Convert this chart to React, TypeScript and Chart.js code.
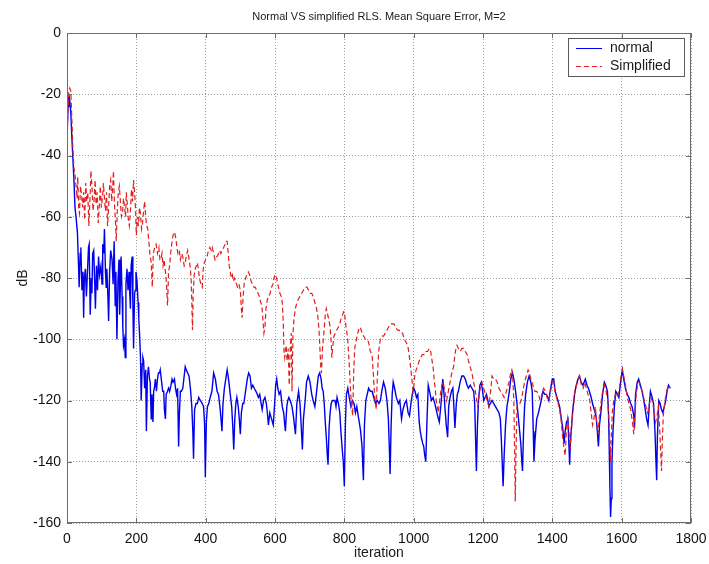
import { useEffect, useRef } from 'react';
import { Chart, registerables } from 'chart.js';

Chart.register(...registerables);

// Mean square error (dB) per iteration, standard RLS
const normalMse: [number, number][] = [
  [0,-35],[3,-24],[5,-20],[8,-22],[11,-26],[14,-34],[17,-41],[20,-48],[23,-57],[26,-60],
  [30,-65],[33,-75],[35,-83],[38,-72],[40,-70],[43,-84],[46,-78],[48,-93],[50,-80],[53,-77],
  [56,-86],[59,-78],[62,-70],[64,-69],[67,-92],[70,-80],[72,-85],[74,-72],[77,-71],[80,-82],
  [82,-90],[85,-76],[88,-84],[91,-73],[94,-79],[98,-76],[101,-82],[103,-69],[106,-72],[108,-64],
  [111,-78],[113,-83],[115,-77],[118,-86],[120,-94],[123,-78],[126,-71],[130,-74],[133,-82],[136,-68],
  [139,-89],[141,-78],[144,-100],[147,-81],[150,-74],[152,-92],[154,-82],[156,-73],[159,-86],[161,-96],
  [163,-102],[166,-100],[168,-106],[170,-82],[173,-77],[176,-84],[179,-78],[181,-85],[183,-90],[185,-76],
  [188,-73],[190,-88],[192,-103],[195,-85],[197,-84],[199,-78],[202,-81],[205,-88],[207,-93],[210,-100],
  [212,-106],[214,-120],[217,-108],[219,-106],[221,-107],[224,-116],[227,-110],[229,-130],[232,-112],[235,-109],
  [238,-113],[240,-114],[243,-126],[245,-118],[248,-127],[250,-117],[252,-116],[255,-113],[258,-117],[261,-113],
  [264,-111],[267,-111],[269,-110],[272,-113],[276,-117],[279,-117],[281,-123],[284,-126],[286,-118],[290,-117],
  [293,-116],[296,-117],[300,-115],[303,-113],[306,-114],[310,-113],[313,-116],[316,-118],[319,-116],[322,-135],
  [324,-125],[327,-117],[330,-117],[334,-116],[338,-112],[341,-109],[344,-110],[348,-111],[352,-112],[356,-116],
  [360,-122],[363,-130],[365,-139],[368,-123],[372,-121],[376,-121],[380,-119],[385,-120],[390,-121],[394,-122],
  [397,-128],[399,-145],[402,-127],[405,-122],[409,-121],[413,-119],[418,-117],[423,-111],[428,-113],[433,-117],
  [437,-118],[442,-123],[445,-127],[447,-130],[450,-121],[454,-116],[458,-113],[462,-110],[466,-113],[471,-118],
  [475,-122],[478,-128],[481,-136],[484,-126],[487,-121],[490,-119],[494,-122],[497,-126],[500,-131],[503,-124],
  [507,-121],[510,-121],[515,-117],[520,-113],[524,-111],[528,-112],[532,-116],[536,-115],[540,-116],[545,-117],
  [549,-118],[552,-119],[556,-118],[560,-121],[563,-123],[567,-120],[571,-119],[575,-121],[578,-124],[581,-128],
  [585,-124],[590,-126],[595,-128],[599,-121],[602,-115],[605,-113],[608,-116],[612,-118],[616,-117],[621,-122],
  [625,-124],[630,-130],[634,-122],[637,-120],[640,-119],[644,-120],[649,-122],[653,-125],[656,-128],[659,-131],
  [663,-121],[668,-117],[672,-121],[675,-127],[679,-136],[682,-126],[687,-120],[691,-114],[696,-112],[701,-114],
  [706,-118],[710,-120],[715,-122],[720,-117],[725,-112],[729,-111],[733,-113],[736,-116],[739,-117],[742,-121],
  [745,-127],[748,-132],[751,-138],[753,-141],[756,-129],[759,-124],[762,-121],[766,-120],[770,-120],[773,-120],
  [776,-122],[779,-119],[783,-121],[787,-124],[790,-130],[794,-136],[797,-140],[800,-148],[803,-128],[806,-118],
  [810,-116],[814,-119],[819,-122],[823,-120],[828,-121],[832,-124],[836,-122],[840,-125],[843,-127],[847,-130],
  [851,-135],[855,-146],[858,-128],[862,-120],[866,-118],[870,-116],[875,-117],[880,-117],[885,-119],[890,-121],
  [895,-120],[900,-121],[904,-120],[908,-117],[913,-114],[918,-116],[923,-120],[927,-126],[930,-136],[932,-144],
  [935,-128],[938,-118],[941,-114],[945,-116],[950,-119],[956,-121],[960,-120],[965,-126],[969,-123],[974,-121],
  [979,-120],[984,-124],[988,-125],[992,-121],[996,-118],[1000,-116],[1004,-117],[1008,-119],[1012,-118],[1016,-127],
  [1019,-130],[1022,-132],[1026,-134],[1029,-135],[1032,-138],[1035,-140],[1038,-128],[1042,-115],[1046,-117],[1051,-120],
  [1056,-119],[1061,-121],[1065,-123],[1069,-125],[1074,-127],[1079,-121],[1084,-113],[1087,-117],[1090,-122],[1094,-128],
  [1098,-132],[1101,-122],[1105,-119],[1109,-117],[1113,-116],[1116,-122],[1119,-129],[1123,-121],[1126,-118],[1129,-117],
  [1134,-114],[1139,-112],[1144,-112],[1149,-113],[1154,-115],[1158,-116],[1163,-115],[1168,-116],[1173,-117],[1176,-121],
  [1178,-130],[1181,-143],[1184,-128],[1187,-120],[1191,-115],[1195,-114],[1199,-117],[1202,-120],[1206,-119],[1210,-118],
  [1214,-120],[1217,-122],[1221,-121],[1226,-120],[1231,-121],[1236,-122],[1241,-123],[1246,-124],[1250,-126],[1253,-133],
  [1255,-139],[1258,-148],[1261,-138],[1265,-128],[1269,-122],[1272,-120],[1276,-117],[1280,-113],[1285,-111],[1289,-113],
  [1294,-117],[1299,-122],[1304,-128],[1309,-134],[1312,-140],[1314,-143],[1317,-130],[1320,-122],[1323,-118],[1328,-114],
  [1333,-112],[1338,-114],[1342,-117],[1345,-130],[1347,-140],[1350,-133],[1355,-126],[1360,-124],[1364,-122],[1368,-120],
  [1373,-117],[1378,-118],[1383,-118],[1387,-119],[1390,-120],[1395,-116],[1400,-113],[1404,-113],[1408,-117],[1411,-118],
  [1416,-120],[1421,-122],[1426,-126],[1430,-129],[1434,-134],[1437,-130],[1441,-127],[1445,-126],[1448,-135],[1450,-141],
  [1452,-134],[1455,-129],[1459,-123],[1464,-118],[1469,-115],[1474,-113],[1478,-112],[1483,-114],[1488,-115],[1492,-114],
  [1495,-113],[1500,-115],[1504,-116],[1507,-117],[1512,-119],[1516,-121],[1521,-123],[1526,-125],[1529,-129],[1533,-135],
  [1536,-128],[1540,-124],[1545,-118],[1550,-114],[1554,-115],[1559,-117],[1562,-124],[1564,-135],[1566,-148],[1568,-158],
  [1570,-152],[1572,-140],[1575,-130],[1579,-122],[1583,-117],[1588,-118],[1592,-119],[1597,-114],[1602,-110],[1606,-113],
  [1611,-116],[1616,-118],[1621,-119],[1626,-121],[1630,-122],[1635,-125],[1637,-129],[1640,-118],[1645,-114],[1649,-113],
  [1654,-115],[1659,-117],[1664,-120],[1668,-123],[1672,-126],[1676,-128],[1680,-121],[1683,-117],[1688,-119],[1692,-121],
  [1696,-130],[1699,-140],[1701,-146],[1703,-132],[1707,-120],[1711,-121],[1715,-123],[1719,-124],[1723,-122],[1727,-120],
  [1731,-117],[1735,-115],[1740,-116],
];

// Mean square error (dB) per iteration, simplified RLS
const simplifiedMse: [number, number][] = [
  [0,-34],[3,-25],[5,-19],[8,-18],[11,-19],[14,-28],[17,-38],[20,-44],[23,-46],[26,-50],
  [29,-54],[31,-47],[34,-58],[36,-59],[39,-50],[42,-53],[45,-57],[48,-52],[51,-61],[54,-49],
  [57,-55],[60,-52],[63,-63],[66,-55],[69,-45],[72,-50],[75,-58],[78,-55],[81,-48],[84,-56],
  [87,-52],[90,-62],[93,-57],[96,-50],[99,-57],[102,-54],[105,-49],[108,-54],[111,-58],[114,-52],
  [117,-63],[120,-57],[123,-50],[126,-48],[129,-55],[132,-50],[134,-45],[137,-56],[140,-62],[142,-68],
  [145,-58],[148,-52],[151,-50],[154,-55],[157,-60],[160,-59],[163,-54],[166,-57],[169,-60],[171,-52],
  [174,-56],[177,-61],[180,-63],[183,-58],[186,-51],[189,-55],[192,-48],[195,-52],[198,-58],[200,-66],
  [203,-60],[206,-63],[209,-57],[212,-59],[215,-64],[218,-62],[221,-58],[224,-55],[227,-60],[230,-63],
  [233,-64],[236,-68],[239,-72],[243,-75],[246,-83],[249,-72],[253,-70],[257,-69],[261,-72],[265,-70],
  [268,-74],[271,-74],[274,-72],[277,-76],[280,-74],[284,-78],[287,-82],[290,-89],[293,-78],[296,-76],
  [299,-72],[302,-69],[306,-66],[310,-65],[314,-67],[317,-70],[320,-72],[324,-71],[327,-74],[331,-72],
  [334,-73],[338,-76],[341,-75],[344,-73],[348,-71],[351,-73],[355,-76],[358,-80],[360,-88],[362,-97],
  [364,-85],[367,-79],[370,-77],[373,-76],[376,-75],[379,-77],[382,-80],[386,-82],[390,-83],[393,-77],
  [396,-75],[400,-74],[404,-73],[408,-71],[412,-70],[416,-71],[419,-70],[423,-72],[427,-74],[430,-73],
  [433,-73],[437,-72],[440,-71],[444,-72],[448,-71],[452,-70],[456,-69],[459,-68],[462,-68],[465,-72],
  [468,-76],[471,-78],[474,-80],[477,-79],[480,-81],[483,-80],[486,-81],[489,-82],[492,-83],[496,-82],
  [500,-84],[503,-90],[505,-93],[508,-86],[511,-82],[515,-80],[519,-79],[523,-78],[527,-79],[531,-81],
  [535,-82],[539,-83],[543,-83],[547,-84],[551,-85],[555,-86],[559,-88],[562,-89],[566,-95],[568,-98],
  [571,-96],[574,-90],[578,-87],[582,-86],[586,-85],[590,-83],[594,-82],[597,-80],[600,-79],[603,-79],
  [606,-81],[610,-83],[614,-85],[618,-86],[621,-88],[624,-95],[626,-104],[628,-106],[630,-104],[632,-102],
  [635,-107],[638,-103],[641,-115],[644,-103],[647,-98],[649,-117],[652,-98],[655,-93],[659,-90],[663,-88],
  [667,-87],[672,-86],[677,-85],[682,-84],[687,-83],[692,-83],[697,-84],[702,-85],[706,-85],[710,-86],
  [715,-88],[720,-90],[724,-93],[727,-97],[730,-104],[732,-109],[734,-111],[737,-103],[741,-98],[745,-92],
  [748,-90],[752,-92],[756,-94],[759,-96],[762,-101],[764,-106],[767,-102],[770,-99],[774,-98],[778,-97],
  [783,-96],[787,-95],[791,-93],[795,-92],[798,-91],[800,-91],[803,-94],[806,-97],[809,-99],[812,-104],
  [815,-110],[818,-117],[821,-122],[824,-125],[827,-111],[830,-103],[833,-101],[837,-99],[841,-97],[846,-96],
  [851,-98],[856,-99],[861,-100],[866,-100],[870,-101],[875,-104],[880,-105],[884,-112],[887,-118],[890,-121],
  [892,-123],[895,-113],[899,-104],[904,-100],[909,-99],[913,-99],[918,-98],[923,-97],[928,-96],[933,-95],
  [938,-95],[943,-95],[948,-96],[953,-97],[958,-97],[963,-98],[968,-98],[973,-100],[978,-101],[983,-102],
  [988,-106],[992,-110],[995,-113],[998,-117],[1000,-116],[1003,-112],[1007,-110],[1011,-109],[1016,-107],[1020,-106],
  [1025,-105],[1030,-105],[1035,-104],[1040,-104],[1045,-103],[1049,-104],[1053,-107],[1056,-109],[1059,-113],[1062,-116],
  [1065,-120],[1068,-122],[1071,-124],[1074,-121],[1077,-118],[1081,-115],[1085,-114],[1090,-117],[1095,-120],[1100,-117],
  [1105,-114],[1110,-111],[1115,-109],[1119,-105],[1122,-103],[1125,-102],[1129,-103],[1134,-104],[1139,-103],[1144,-103],
  [1149,-104],[1154,-105],[1158,-107],[1163,-109],[1168,-111],[1173,-114],[1178,-117],[1182,-120],[1185,-122],[1188,-119],
  [1192,-116],[1197,-114],[1202,-116],[1207,-118],[1212,-120],[1217,-122],[1222,-117],[1226,-112],[1231,-113],[1236,-113],
  [1241,-114],[1246,-116],[1251,-117],[1256,-118],[1261,-119],[1265,-118],[1270,-116],[1275,-114],[1280,-111],[1283,-110],
  [1286,-113],[1289,-120],[1291,-135],[1293,-153],[1295,-138],[1298,-122],[1302,-121],[1306,-121],[1310,-120],[1315,-117],
  [1320,-114],[1325,-112],[1330,-110],[1334,-111],[1338,-113],[1342,-114],[1346,-116],[1350,-117],[1355,-117],[1360,-118],
  [1365,-120],[1370,-118],[1375,-116],[1380,-117],[1385,-119],[1390,-120],[1395,-117],[1400,-114],[1404,-114],[1408,-117],
  [1412,-119],[1417,-121],[1421,-123],[1425,-126],[1429,-131],[1433,-135],[1437,-138],[1440,-131],[1444,-126],[1448,-130],
  [1451,-136],[1454,-132],[1457,-126],[1461,-122],[1465,-117],[1470,-115],[1475,-113],[1479,-112],[1484,-115],[1489,-116],
  [1494,-114],[1498,-116],[1503,-118],[1508,-120],[1512,-124],[1516,-128],[1520,-126],[1524,-122],[1528,-127],[1532,-131],
  [1535,-126],[1540,-121],[1545,-117],[1550,-115],[1555,-117],[1560,-120],[1563,-126],[1566,-134],[1568,-140],[1570,-132],
  [1573,-124],[1577,-120],[1582,-118],[1587,-119],[1592,-117],[1597,-113],[1602,-110],[1606,-112],[1611,-115],[1616,-119],
  [1621,-121],[1626,-123],[1631,-127],[1635,-131],[1638,-125],[1642,-118],[1646,-115],[1650,-114],[1655,-116],[1660,-117],
  [1665,-120],[1670,-122],[1675,-124],[1680,-121],[1685,-119],[1690,-121],[1694,-124],[1698,-127],[1702,-125],[1706,-122],
  [1710,-130],[1713,-138],[1715,-143],[1717,-134],[1720,-125],[1724,-121],[1728,-118],[1732,-116],[1736,-115],[1740,-116],
];

const seriesNames = ['normal', 'Simplified'];
const xTicks = [0, 200, 400, 600, 800, 1000, 1200, 1400, 1600, 1800];
const yTicks = [0, -20, -40, -60, -80, -100, -120, -140, -160];

const titleText = 'Normal VS simplified RLS. Mean Square Error, M=2';
const xLabel = 'iteration';
const yLabel = 'dB';

const FONT = '"Liberation Sans", Arial, Helvetica, sans-serif';
const BLUE = 'rgb(0, 0, 235)';
const RED = 'rgb(225, 30, 30)';
const RED_DASH = [5, 3];

const toPoints = (rows: [number, number][]) => rows.map(([x, y]) => ({ x, y }));

// Box, inward ticks, title, axis labels and legend in MATLAB figure style
const figureDecor = {
  id: 'figureDecor',
  afterDraw(chart: any) {
    const { ctx, chartArea: a, scales } = chart;
    const xs = scales.x;
    const ys = scales.y;
    ctx.save();

    // axes box
    ctx.strokeStyle = '#6e6e6e';
    ctx.lineWidth = 1;
    ctx.setLineDash([]);
    ctx.strokeRect(Math.round(a.left) + 0.5, Math.round(a.top) + 0.5,
      Math.round(a.right - a.left) - 1, Math.round(a.bottom - a.top) - 1);

    // inward tick marks on all four sides
    const tl = 5;
    ctx.beginPath();
    xTicks.forEach((v) => {
      const px = Math.round(xs.getPixelForValue(v)) + 0.5;
      ctx.moveTo(px, a.bottom); ctx.lineTo(px, a.bottom - tl);
      ctx.moveTo(px, a.top); ctx.lineTo(px, a.top + tl);
    });
    yTicks.forEach((v) => {
      const py = Math.round(ys.getPixelForValue(v)) + 0.5;
      ctx.moveTo(a.left, py); ctx.lineTo(a.left + tl, py);
      ctx.moveTo(a.right, py); ctx.lineTo(a.right - tl, py);
    });
    ctx.stroke();

    // title
    ctx.fillStyle = '#1a1a1a';
    ctx.font = `11px ${FONT}`;
    ctx.textAlign = 'center';
    ctx.textBaseline = 'middle';
    ctx.fillText(titleText, (a.left + a.right) / 2, 17);

    // axis labels
    ctx.font = `14px ${FONT}`;
    ctx.fillText(xLabel, (a.left + a.right) / 2, 553);
    ctx.save();
    ctx.translate(23, (a.top + a.bottom) / 2);
    ctx.rotate(-Math.PI / 2);
    ctx.fillText(yLabel, 0, 0);
    ctx.restore();

    // legend
    const lx = 568, ly = 38, lw = 117, lh = 39;
    ctx.fillStyle = '#ffffff';
    ctx.fillRect(lx, ly, lw, lh);
    ctx.strokeStyle = '#5a5a5a';
    ctx.strokeRect(lx + 0.5, ly + 0.5, lw - 1, lh - 1);
    const rows = [
      { y: 48.5, color: BLUE, dash: [] as number[] },
      { y: 66.5, color: RED, dash: RED_DASH },
    ];
    rows.forEach((r, i) => {
      ctx.strokeStyle = r.color;
      ctx.setLineDash(r.dash);
      ctx.beginPath();
      ctx.moveTo(576, r.y);
      ctx.lineTo(602, r.y);
      ctx.stroke();
      ctx.setLineDash([]);
      ctx.fillStyle = '#1a1a1a';
      ctx.font = `14px ${FONT}`;
      ctx.textAlign = 'left';
      ctx.textBaseline = 'middle';
      ctx.fillText(seriesNames[i], 610, r.y);
    });

    ctx.restore();
  },
};

export default function App() {
  const canvasRef = useRef<HTMLCanvasElement | null>(null);

  useEffect(() => {
    document.body.style.margin = '0';
    const canvas = canvasRef.current;
    if (!canvas) return;

    const chart = new Chart(canvas, {
      type: 'line',
      data: {
        datasets: [
          {
            label: seriesNames[0],
            data: toPoints(normalMse),
            borderColor: BLUE,
            borderWidth: 1.4,
            pointRadius: 0,
            tension: 0,
            order: 1,
          },
          {
            label: seriesNames[1],
            data: toPoints(simplifiedMse),
            borderColor: RED,
            borderWidth: 1.2,
            borderDash: RED_DASH,
            pointRadius: 0,
            tension: 0,
            order: 0,
          },
        ],
      },
      options: {
        animation: false,
        responsive: false,
        maintainAspectRatio: false,
        devicePixelRatio: 1,
        events: [],
        layout: { padding: { top: 33, right: 18, left: 0, bottom: 0 } },
        plugins: {
          legend: { display: false },
          title: { display: false },
          tooltip: { enabled: false },
        },
        scales: {
          x: {
            type: 'linear',
            min: 0,
            max: 1800,
            afterBuildTicks: (s: any) => { s.ticks = xTicks.map((v) => ({ value: v })); },
            afterFit: (s: any) => {
              s.height = 41;
              s.paddingLeft = 0;
              s.paddingRight = 0;
            },
            ticks: {
              padding: 8,
              maxRotation: 0,
              autoSkip: false,
              color: '#111',
              font: { family: FONT, size: 14 },
              callback: (v: any) => String(v),
            },
            grid: {
              color: 'rgba(140,140,140,0.85)',
              lineWidth: 1,
              drawTicks: false,
            },
            border: { display: false, dash: [1, 2] },
          },
          y: {
            type: 'linear',
            min: -160,
            max: 0,
            afterBuildTicks: (s: any) => { s.ticks = yTicks.map((v) => ({ value: v })); },
            afterFit: (s: any) => {
              s.width = 67;
              s.paddingTop = 0;
              s.paddingBottom = 0;
            },
            ticks: {
              padding: 6,
              autoSkip: false,
              color: '#111',
              font: { family: FONT, size: 14 },
              callback: (v: any) => String(v),
            },
            grid: {
              color: 'rgba(140,140,140,0.85)',
              lineWidth: 1,
              drawTicks: false,
            },
            border: { display: false, dash: [1, 2] },
          },
        },
      },
      plugins: [figureDecor],
    });

    return () => chart.destroy();
  }, []);

  return (
    <canvas
      ref={canvasRef}
      width={709}
      height={564}
      style={{ display: 'block', width: 709, height: 564 }}
    />
  );
}
